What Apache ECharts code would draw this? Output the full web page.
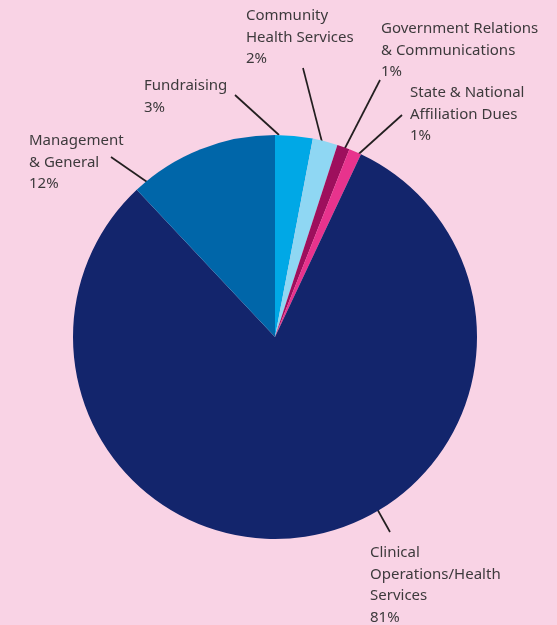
<!DOCTYPE html>
<html><head><meta charset="utf-8">
<script src="https://cdn.jsdelivr.net/npm/echarts@6/dist/echarts.min.js"></script>
<style>html,body{margin:0;padding:0;background:#f9d3e5;}#c{width:557px;height:625px;}</style>
</head><body><div id="c"></div>
<script>
const categories = [
  "Fundraising",
  "Community\nHealth Services",
  "Government Relations\n& Communications",
  "State & National\nAffiliation Dues",
  "Clinical\nOperations/Health\nServices",
  "Management\n& General"
];
const values = [3, 2, 1, 1, 81, 12];
const colors = ["#00a8e6", "#8fd7f3", "#9e0f5d", "#e8338d", "#13256c", "#0066a9"];

// label placement (layout only): text top-left and leader line endpoints
const labelPlace = [
  {x:144, y:75,  line:[[235,95],[279,135]]},
  {x:246, y:5,   line:[[303,68],[322,142]]},
  {x:381, y:18,  line:[[380,80],[344,150]]},
  {x:410, y:82,  line:[[402,115],[352,160]]},
  {x:370, y:542, line:[[390,532],[371,498]]},
  {x:29,  y:130, line:[[111,157],[163,193]]}
];

const chart = echarts.init(document.getElementById('c'));
chart.setOption({
  backgroundColor: '#f9d3e5',
  animation: false,
  series: [{
    type: 'pie',
    center: [275, 337],
    radius: 202,
    startAngle: 90,
    clockwise: true,
    data: categories.map((n, i) => ({name: n, value: values[i], itemStyle: {color: colors[i]}})),
    label: {
      show: true,
      formatter: p => p.name + '\n' + p.value + '%',
      fontFamily: 'Noto Sans',
      fontSize: 15,
      lineHeight: 21.5,
      color: '#3d3a3c',
      align: 'left',
      overflow: 'none',
      width: 300
    },
    labelLine: { show: true, lineStyle: {color: '#231f20', width: 1.7} },
    labelLayout: function (params) {
      const lp = labelPlace[params.dataIndex];
      const a = lp.line[0], b = lp.line[1];
      return {
        x: lp.x, y: lp.y, align: 'left', verticalAlign: 'top',
        labelLinePoints: [b, [(a[0]+b[0])/2, (a[1]+b[1])/2], a]
      };
    },
    emphasis: {disabled: true}
  }]
});
</script></body></html>
